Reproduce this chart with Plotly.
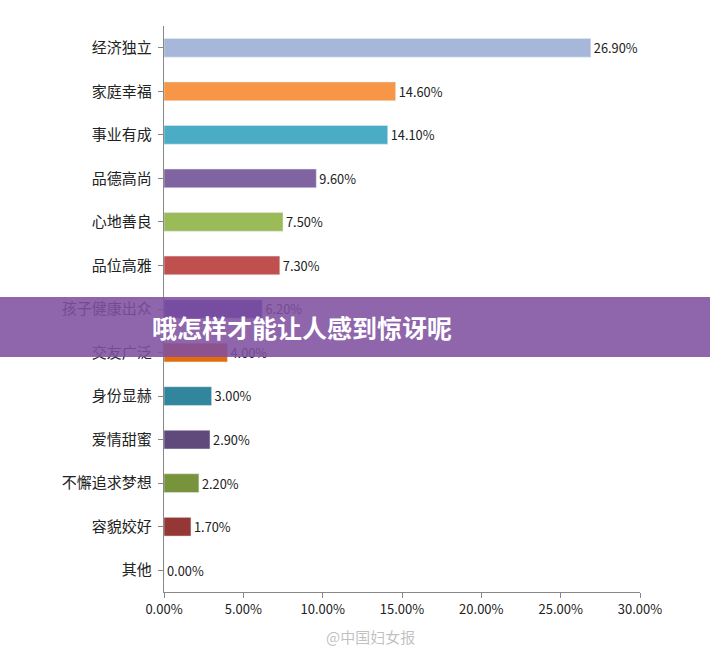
import plotly.graph_objects as go

categories = ["经济独立", "家庭幸福", "事业有成", "品德高尚", "心地善良", "品位高雅",
              "孩子健康出众", "交友广泛", "身份显赫", "爱情甜蜜", "不懈追求梦想", "容貌姣好", "其他"]
values = [26.9, 14.6, 14.1, 9.6, 7.5, 7.3, 6.2, 4.0, 3.0, 2.9, 2.2, 1.7, 0.0]
colors = ["#a7b7d9", "#f79646", "#4bacc6", "#8064a2", "#9bbb59", "#c0504d",
          "#3f3fa8", "#e36c09", "#31859c", "#604a7b", "#77933c", "#953735", "#4f81bd"]
tick_vals = [0, 5, 10, 15, 20, 25, 30]
tick_text = ["0.00%", "5.00%", "10.00%", "15.00%", "20.00%", "25.00%", "30.00%"]

T, B, L, R = 26, 63, 164, 70
PH = 655 - T - B
PW = 710 - L - R


def py(y_px):
    return (655 - B - y_px) / PH


def px(x_px):
    return (x_px - L) / PW


fig = go.Figure(go.Bar(
    x=values, y=categories, orientation="h", marker_color=colors, width=0.43,
    text=[f"{v:.2f}%" for v in values], textposition="outside",
    textfont=dict(size=13, color="#222"), cliponaxis=False,
))

fig.update_layout(
    width=710, height=655, margin=dict(l=L, r=R, t=T, b=B, autoexpand=False),
    plot_bgcolor="white", paper_bgcolor="white", showlegend=False,
    font=dict(family="Noto Sans CJK SC, sans-serif", color="#222"),
)
fig.update_yaxes(autorange="reversed", showline=True, linecolor="#888", ticks="outside",
                 tickcolor="#888", ticklen=5, tickfont=dict(size=15), ticksuffix=" ",
                 automargin=False)
fig.update_xaxes(range=[0, 30], tickvals=tick_vals, ticktext=tick_text, showline=True,
                 linecolor="#888", ticks="outside", tickcolor="#888", ticklen=5,
                 showgrid=False, zeroline=False, tickfont=dict(size=13), automargin=False)

# title banner overlay
fig.add_shape(type="rect", xref="paper", yref="paper", x0=px(-20), x1=px(730),
              y0=py(357), y1=py(297),
              fillcolor="rgba(128,80,160,0.88)", line_width=0, layer="above")
fig.add_annotation(text="<b>哦怎样才能让人感到惊讶呢</b>", xref="paper", yref="paper",
                   x=px(150), y=py(327), xanchor="left",
                   showarrow=False, font=dict(size=25, color="white"))
fig.add_annotation(text="@中国妇女报", xref="paper", yref="paper", x=px(370),
                   y=py(637), xanchor="center", yanchor="middle",
                   showarrow=False, font=dict(size=15, color="rgba(150,150,150,0.6)"))

fig.write_html("out.html", config={"displayModeBar": False},
               post_script="document.body.style.margin='0';")
